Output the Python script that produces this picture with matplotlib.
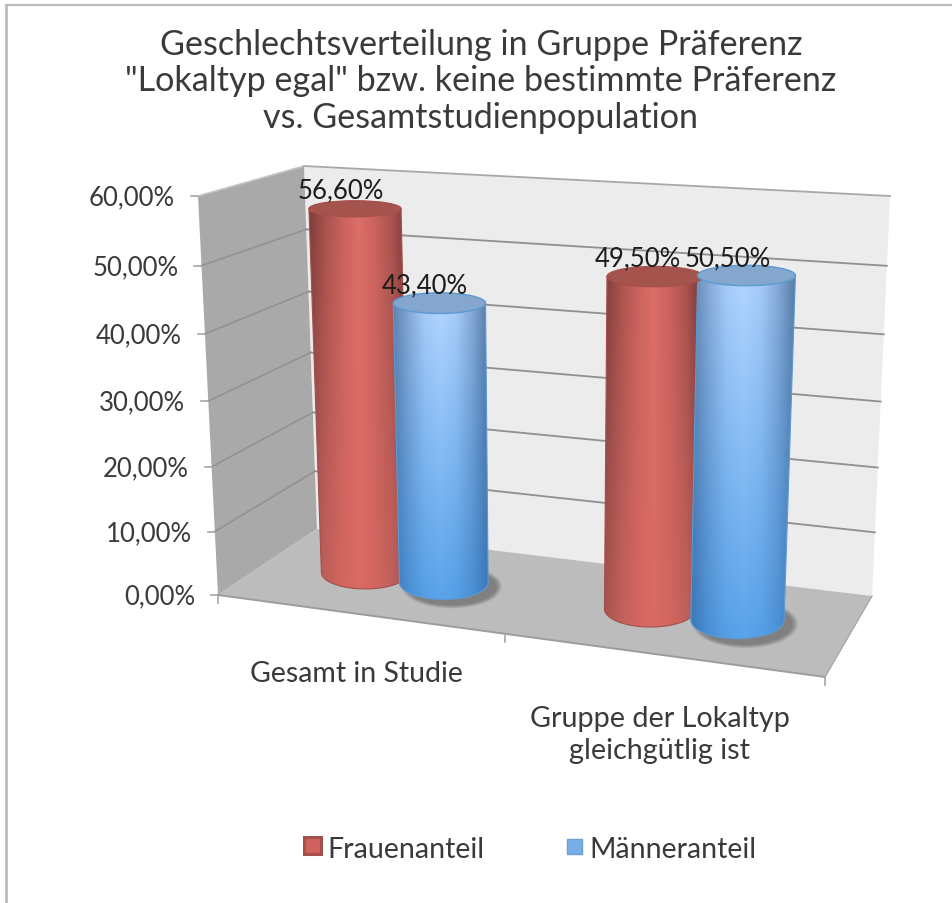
import numpy as np
import matplotlib
matplotlib.use("Agg")
import matplotlib.pyplot as plt
from matplotlib.patches import Polygon, Ellipse, Rectangle
from matplotlib.colors import to_rgb

title_lines = ["Geschlechtsverteilung in Gruppe Präferenz",
               "\"Lokaltyp egal\" bzw. keine bestimmte Präferenz",
               "vs. Gesamtstudienpopulation"]
categories = ["Gesamt in Studie", "Gruppe der Lokaltyp\ngleichgütlig ist"]
series_names = ["Frauenanteil", "Männeranteil"]
frauen = [56.6, 49.5]
maenner = [43.4, 50.5]
y_ticks = [0, 10, 20, 30, 40, 50, 60]
y_max = 60

FONT = "Lato"
TEXT = "#3a3a3a"

# pixel corners of the 3d box: floor and the plane at y_max
FL, BL, BR, FR = (218, 596), (317, 530), (872, 597), (825, 678)
FLt, BLt, BRt, FRt = (198, 197), (304, 167), (890, 197), (842, 234)
PERSP = 1.057


def homography(corners):
    src = [(0, 0), (0, 1), (1, 1), (1, 0)]
    a, b = [], []
    for (u, v), (x, y) in zip(src, corners):
        a.append([u, v, 1, 0, 0, 0, -u * x, -v * x])
        a.append([0, 0, 0, u, v, 1, -u * y, -v * y])
        b += [x, y]
    return np.append(np.linalg.solve(np.array(a, float), np.array(b, float)), 1).reshape(3, 3)


H_floor = homography([FL, BL, BR, FR])
H_top = homography([FLt, BLt, BRt, FRt])


def project(u, v, val):
    # u along the categories, v into the depth, val in percent
    w = val / y_max
    w = w / (w + (1 - w) * PERSP)
    p0 = H_floor @ [u, v, 1]
    p1 = H_top @ [u, v, 1]
    return (1 - w) * p0[:2] / p0[2] + w * p1[:2] / p1[2]


def cylinder(ax, u, val, stops_top, stops_bottom, top_col, edge_col, shadow=False):
    r_u, r_v, v0 = 0.078, 0.24, 0.5
    # the width grows too fast towards the right with the full projection, so damp it
    u_w = 0.5 + 0.5 * (u - 0.5)

    def ell(level):
        c = project(u, v0, level)
        rx = abs(project(u_w + r_u, v0, level)[0] - project(u_w - r_u, v0, level)[0]) / 2
        ry = abs(project(u, v0 + r_v, level)[1] - project(u, v0 - r_v, level)[1]) / 2
        return c, rx, ry

    c0, rx0, ry0 = ell(0)
    c1, rx1, ry1 = ell(val)

    if shadow:
        for k in np.linspace(1, 0.55, 10):
            ax.add_patch(Ellipse((c0[0] + 8, c0[1] + 4), 2 * rx0 * (0.85 + 0.28 * k), 2 * ry0 * (0.85 + 0.45 * k),
                                 fc="#404040", ec="none", alpha=0.06, zorder=3))

    t = np.linspace(0, np.pi, 60)
    lower = np.c_[c0[0] + rx0 * np.cos(t), c0[1] + ry0 * np.sin(t)]
    outline = np.vstack([[c1[0] + rx1, c1[1]], lower, [c1[0] - rx1, c1[1]]])
    body = Polygon(outline, closed=True, fc="none", ec=edge_col, lw=0.8, zorder=4)

    xs = np.linspace(0, 1, len(stops_top))
    xx = np.linspace(0, 1, 200)
    ww = np.linspace(0, 1, 100)[:, None, None]
    top_rgb = np.array([to_rgb(s) for s in stops_top])
    bot_rgb = np.array([to_rgb(s) for s in stops_bottom])
    row_t = np.stack([np.interp(xx, xs, top_rgb[:, i]) for i in range(3)], axis=1)
    row_b = np.stack([np.interp(xx, xs, bot_rgb[:, i]) for i in range(3)], axis=1)
    img = (1 - ww) * row_t[None] + ww * row_b[None]

    left, right = outline[:, 0].min(), outline[:, 0].max()
    im = ax.imshow(img, extent=(left, right, c0[1] + ry0, c1[1]), aspect="auto", zorder=4,
                   interpolation="bilinear")
    ax.add_patch(body)
    im.set_clip_path(body)
    ax.add_patch(Ellipse(c1, 2 * rx1, 2 * ry1, fc=top_col, ec=edge_col, lw=1.0, zorder=5))
    return c1


fig = plt.figure(figsize=(9.53, 9.04), dpi=100, facecolor="white")
ax = fig.add_axes([0, 0, 1, 1])
ax.set_xlim(0, 953)
ax.set_ylim(904, 0)
ax.axis("off")

# chart frame, only top and left are in the crop
ax.plot([6, 953], [6, 6], color="#bdbdbd", lw=1.6, zorder=1)
ax.plot([6.5, 6.5], [6, 904], color="#bdbdbd", lw=2.0, zorder=1)

# walls and floor
ax.add_patch(Polygon([BLt, BRt, BR, BL], fc="#ececec", ec="none", zorder=1))
ax.add_patch(Polygon([FLt, BLt, BL, FL], fc="#a9a9a9", ec="none", zorder=1))
ax.add_patch(Polygon([FL, BL, BR, FR], fc="#bcbcbc", ec="none", zorder=1))

grid = "#8f8f8f"
for val in y_ticks:
    a = project(0, 0, val)
    b = project(0, 1, val)
    c = project(1, 1, val)
    if val > 0:
        ax.plot([a[0], b[0]], [a[1], b[1]], color="#929292" if val < 60 else "#c4c4c4", lw=1.2, zorder=2)
        ax.plot([b[0], c[0]], [b[1], c[1]], color=grid if val < 60 else "#a8a8a8", lw=1.3, zorder=2)
    ax.plot([a[0] - 7, a[0]], [a[1], a[1]], color="#a5a5a5", lw=1.2, zorder=2)
    ax.text(a[0] - 23, a[1] + 1, f"{val:.2f}%".replace(".", ","), ha="right", va="center",
            family=FONT, fontsize=18.5, color=TEXT)

# floor front edge and ticks
ax.plot([FL[0], FR[0]], [FL[1], FR[1]], color="#9c9c9c", lw=1.4, zorder=2)
ax.plot([FR[0], BR[0]], [FR[1], BR[1]], color="#a8a8a8", lw=1.0, zorder=2)
for u in [0, 0.5, 1]:
    p = project(u, 0, 0)
    ax.plot([p[0], p[0]], [p[1], p[1] + 8], color="#a5a5a5", lw=1.2, zorder=2)

# bars
red_top = ["#7e3d3a", "#a9524e", "#c8625d", "#dd6e68", "#c9625d", "#a9524e", "#6f3533"]
red_bot = ["#a65450", "#c0605b", "#d2665f", "#d96a64", "#d2665f", "#c0605b", "#a65450"]
blue_top = ["#5f82ad", "#86a9d6", "#a6cbf8", "#b2d5ff", "#a6cbf8", "#86a9d6", "#587ba6"]
blue_bot = ["#3a78b8", "#4a8fd4", "#559fe6", "#5ba3ea", "#559fe6", "#4a8fd4", "#3a78b8"]

centers = [0.25, 0.75]
offset = 0.0715
label_dx = [[-14, -17], [-15, -19]]
for i, cu in enumerate(centers):
    c = cylinder(ax, cu - offset, frauen[i], red_top, red_bot, "#a5534d", "#a5504b")
    ax.text(c[0] + label_dx[0][i], c[1] - 19, f"{frauen[i]:.2f}%".replace(".", ","), ha="center", va="center",
            family=FONT, fontsize=18.5, color="#1c1c1c", zorder=8)
    c = cylinder(ax, cu + offset, maenner[i], blue_top, blue_bot, "#85a6cd", "#5b9bd5", shadow=True)
    ax.text(c[0] + label_dx[1][i], c[1] - 18, f"{maenner[i]:.2f}%".replace(".", ","), ha="center", va="center",
            family=FONT, fontsize=18.5, color="#1c1c1c", zorder=8)

# category labels
ax.text(356, 674, categories[0], ha="center", va="center", family=FONT, fontsize=20.5, color=TEXT)
ax.text(660, 735, categories[1], ha="center", va="center", family=FONT, fontsize=20.7, color=TEXT, linespacing=1.25)

# title
for line, y in zip(title_lines, [45, 81, 118]):
    ax.text(481, y, line, ha="center", va="center", family=FONT, fontsize=24.6, color=TEXT)

# legend
ax.add_patch(Rectangle((304, 838), 17, 17, fc="#cf625c", ec="#a5504b", lw=2.2, zorder=4))
ax.text(327, 850, series_names[0], ha="left", va="center", family=FONT, fontsize=20.6, color=TEXT)
ax.add_patch(Rectangle((567, 840), 15, 15, fc="#78aee8", ec="#6a9fd8", lw=1, zorder=4))
ax.text(589, 850, series_names[1], ha="left", va="center", family=FONT, fontsize=20.5, color=TEXT)

fig.savefig("out.png", dpi=100)
